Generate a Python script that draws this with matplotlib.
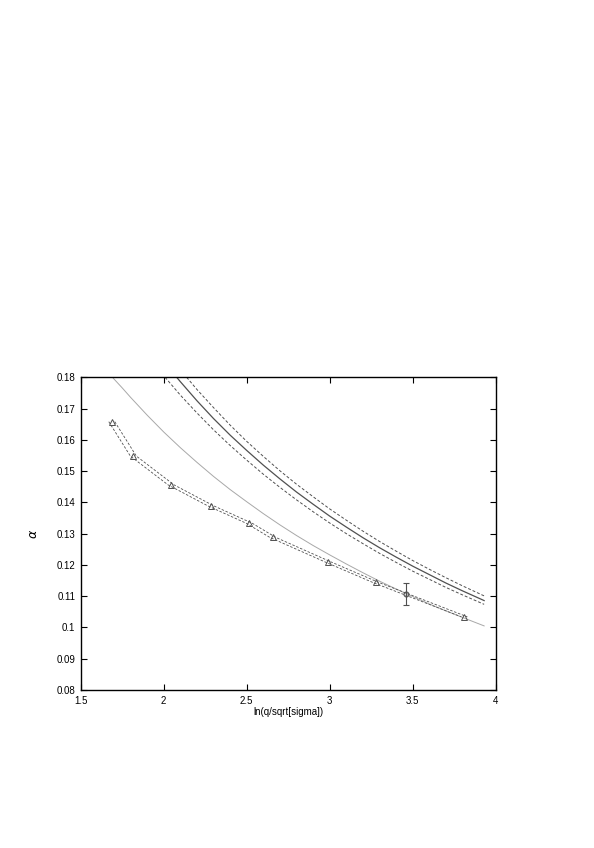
import matplotlib
matplotlib.use("Agg")
import matplotlib.pyplot as plt

plt.rcParams['font.family'] = ['Liberation Sans', 'DejaVu Sans']

# lattice data (triangles)
data_x = [1.687, 1.817, 2.044, 2.283, 2.516, 2.657, 2.992, 3.277, 3.811]
data_y = [0.1658, 0.1548, 0.1456, 0.1389, 0.1333, 0.1288, 0.1209, 0.1144, 0.1034]
# dashed band around the data (left / right edges)
band_left_x = [1.669, 1.799, 2.026, 2.265, 2.498, 2.639, 2.974, 3.259, 3.793]
band_right_x = [1.705, 1.835, 2.062, 2.301, 2.534, 2.675, 3.010, 3.295, 3.829]

# single point with error bar
err_x = [3.459]
err_y = [0.1107]
err_dy = [0.0034]

# thin grey curve
grey_x = [1.696, 1.75, 1.8, 1.9, 2.0, 2.1, 2.2, 2.3, 2.4, 2.5, 2.6, 2.7, 2.8, 2.9,
          3.0, 3.1, 3.2, 3.3, 3.4, 3.5, 3.6, 3.7, 3.8, 3.93]
grey_y = [0.1797, 0.1766, 0.1736, 0.1679, 0.1625, 0.1575, 0.1528, 0.1483, 0.1441, 0.1402,
          0.1364, 0.1328, 0.1294, 0.1262, 0.1232, 0.1203, 0.1175, 0.1148, 0.1123, 0.1099,
          0.1075, 0.1053, 0.1032, 0.1005]

# central solid curve
solid_x = [2.078, 2.1, 2.2, 2.3, 2.4, 2.5, 2.6, 2.7, 2.8, 2.9, 3.0, 3.1, 3.2, 3.3,
           3.4, 3.5, 3.6, 3.7, 3.8, 3.93]
solid_y = [0.1800, 0.1786, 0.1725, 0.1668, 0.1615, 0.1566, 0.1519, 0.1475, 0.1433, 0.1394,
           0.1356, 0.1321, 0.1287, 0.1255, 0.1225, 0.1196, 0.1169, 0.1142, 0.1117, 0.1086]

# upper dashed curve
upper_x = [2.138, 2.2, 2.3, 2.4, 2.5, 2.6, 2.7, 2.8, 2.9, 3.0, 3.1, 3.2, 3.3,
           3.4, 3.5, 3.6, 3.7, 3.8, 3.93]
upper_y = [0.1800, 0.1761, 0.1703, 0.1647, 0.1595, 0.1547, 0.1501, 0.1458, 0.1418, 0.1379,
           0.1343, 0.1308, 0.1275, 0.1244, 0.1214, 0.1186, 0.1159, 0.1133, 0.1101]

# lower dashed curve
lower_x = [2.008, 2.1, 2.2, 2.3, 2.4, 2.5, 2.6, 2.7, 2.8, 2.9, 3.0, 3.1, 3.2, 3.3,
           3.4, 3.5, 3.6, 3.7, 3.8, 3.93]
lower_y = [0.1800, 0.1743, 0.1686, 0.1632, 0.1582, 0.1535, 0.1490, 0.1448, 0.1408, 0.1370,
           0.1334, 0.1300, 0.1268, 0.1237, 0.1208, 0.1180, 0.1154, 0.1128, 0.1104, 0.1074]

xticks = [1.5, 2, 2.5, 3, 3.5, 4]
xticklabels = ['1.5', '2', '2.5', '3', '3.5', '4']
yticks = [0.08, 0.09, 0.1, 0.11, 0.12, 0.13, 0.14, 0.15, 0.16, 0.17, 0.18]
yticklabels = ['0.08', '0.09', '0.1', '0.11', '0.12', '0.13', '0.14', '0.15', '0.16', '0.17', '0.18']

fig = plt.figure(figsize=(5.94, 8.48), dpi=100)
ax = fig.add_axes([0.1359, 0.1863, 0.6987, 0.3688])

dash = (0, (3, 2))
ax.plot(grey_x, grey_y, color='#a8a8a8', lw=0.7)
ax.plot(solid_x, solid_y, color='#505050', lw=0.9)
ax.plot(upper_x, upper_y, color='#505050', lw=0.7, linestyle=dash)
ax.plot(lower_x, lower_y, color='#505050', lw=0.7, linestyle=dash)
ax.plot(band_left_x, data_y, color='#505050', lw=0.6, linestyle=dash)
ax.plot(band_right_x, data_y, color='#505050', lw=0.6, linestyle=dash)
ax.plot(data_x, data_y, linestyle='none', marker='^', markersize=4,
        markerfacecolor='none', markeredgecolor='#505050', markeredgewidth=0.7)
ax.errorbar(err_x, err_y, yerr=err_dy, fmt='o', markersize=3.5,
            markerfacecolor='none', markeredgecolor='#505050', ecolor='#505050',
            elinewidth=0.8, capsize=2.5, capthick=0.8, markeredgewidth=0.8)

ax.set_xlim(1.5, 4.0)
ax.set_ylim(0.08, 0.18)
ax.set_xticks(xticks)
ax.set_xticklabels(xticklabels)
ax.set_yticks(yticks)
ax.set_yticklabels(yticklabels)
ax.tick_params(direction='in', length=4, width=0.8, labelsize=7, top=True, right=True,
               pad=4)
for s in ax.spines.values():
    s.set_linewidth(1.0)

ax.set_xlabel('ln(q/sqrt[sigma])', fontsize=7, labelpad=1)
ax.set_ylabel(r'$\alpha$', fontsize=9, rotation=90, labelpad=12)

fig.savefig('out.png', dpi=100)
